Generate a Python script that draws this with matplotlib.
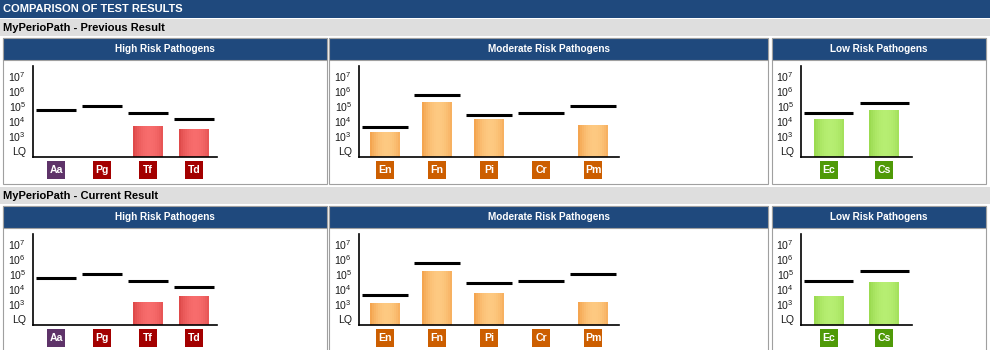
import numpy as np
import matplotlib
matplotlib.use('Agg')
import matplotlib.pyplot as plt
from matplotlib.patches import Rectangle
from matplotlib.colors import to_rgb

plt.rcParams['font.family'] = ['Liberation Sans', 'DejaVu Sans']
plt.rcParams['mathtext.fontset'] = 'custom'
plt.rcParams['mathtext.rm'] = 'Liberation Sans'

# pathogen names per risk group
high_names = ['Aa', 'Pg', 'Tf', 'Td']
mod_names = ['En', 'Fn', 'Pi', 'Cr', 'Pm']
low_names = ['Ec', 'Cs']

# threshold (black line) per pathogen, copies/ml
high_limits = [5.4e4, 1.0e5, 3.2e4, 1.35e4]
mod_limits = [4.0e3, 5.4e5, 2.5e4, 3.4e4, 1.0e5]
low_limits = [3.7e4, 1.7e5]

# previous result (0 = not detected)
prev_high = [0, 0, 4.7e3, 3.0e3]
prev_mod = [1.9e3, 1.9e5, 1.35e4, 0, 5.4e3]
prev_low = [1.35e4, 5.4e4]

# current result
curr_high = [0, 0, 1.35e3, 3.4e3]
curr_mod = [1.2e3, 1.6e5, 5.4e3, 0, 1.35e3]
curr_low = [3.4e3, 3.0e4]

tick_vals = [1e2, 1e3, 1e4, 1e5, 1e6, 1e7]
tick_text = ['LQ', r'$\mathregular{10^{3}}$', r'$\mathregular{10^{4}}$',
             r'$\mathregular{10^{5}}$', r'$\mathregular{10^{6}}$', r'$\mathregular{10^{7}}$']

section_titles = ['MyPerioPath - Previous Result', 'MyPerioPath - Current Result']
panel_titles = ['High Risk Pathogens', 'Moderate Risk Pathogens', 'Low Risk Pathogens']

W, H = 990, 350
BLUE = '#1f497d'
GREY = '#dedede'
BORDER = '#a0a0a0'

fig = plt.figure(figsize=(W / 100, H / 100), dpi=100)


def fig_rect(x0, y0, x1, y1, **kw):
    # pixel coords, origin top-left
    kw.setdefault('zorder', 0)
    fig.patches.append(Rectangle((x0 / W, 1 - y1 / H), (x1 - x0) / W, (y1 - y0) / H,
                                 transform=fig.transFigure, **kw))


def fig_txt(x, y, s, **kw):
    fig.text(x / W, 1 - y / H, s, **kw)


def grad_bar(ax, x, val, width, c_edge, c_mid, bottom):
    if val <= 0:
        return
    n = 15
    dw = width / n
    e = np.array(to_rgb(c_edge))
    m = np.array(to_rgb(c_mid))
    for k in range(n):
        t = (k + 0.5) / n
        f = max(0.0, 1 - ((t - 0.55) / 0.55) ** 2)
        ax.bar(x - width / 2 + k * dw, val - bottom, dw, bottom=bottom, align='edge',
               color=e + (m - e) * f, linewidth=0, antialiased=False, zorder=2)


# group layout: panel x range, axis left, category spacing
groups = [
    (high_names, high_limits, 3, 327, 33, 46,
     ['#5e3369', '#a30000', '#a30000', '#a30000'], ('#dc4646', '#f76c6c')),
    (mod_names, mod_limits, 329, 768, 359, 52,
     ['#cc5e00'] * 5, ('#f3a04a', '#fdc981')),
    (low_names, low_limits, 772, 986, 801, 55.5,
     ['#4f9a08'] * 2, ('#97d84c', '#b6ee72')),
]
results = [[prev_high, prev_mod, prev_low], [curr_high, curr_mod, curr_low]]

# main title
fig_rect(0, 0, W, 18, facecolor=BLUE, edgecolor='none')
fig_txt(3, 9, 'COMPARISON OF TEST RESULTS', color='white', fontsize=8, fontweight='bold',
        ha='left', va='center')

ymin, ymax = 10 ** 1.6, 10 ** 7.67
ax_h = 91

for s, dy in enumerate([0, 168]):
    fig_rect(0, 19 + dy, W, 36 + dy, facecolor=GREY, edgecolor='none')
    fig_txt(3, 28 + dy, section_titles[s], color='black', fontsize=8, fontweight='bold',
            ha='left', va='center')

    for g, (names, limits, px0, px1, ax0, sp, box_cols, (c_edge, c_mid)) in enumerate(groups):
        vals = results[s][g]
        n = len(names)
        fig_rect(px0, 38 + dy, px1, 184 + dy, facecolor='white', edgecolor=BORDER, linewidth=0.8)
        fig_rect(px0, 38 + dy, px1, 60 + dy, facecolor=BLUE, edgecolor=BORDER, linewidth=0.8,
                 zorder=0.5)
        fig_txt((px0 + px1) / 2, 49.5 + dy, panel_titles[g], color='white', fontsize=7.2,
                fontweight='bold', ha='center', va='center')

        ax = fig.add_axes([ax0 / W, 1 - (157 + dy) / H, n * sp / W, ax_h / H])
        ax.set_zorder(2)
        ax.patch.set_visible(False)
        ax.set_yscale('log')
        ax.set_xlim(-0.5, n - 0.5)
        ax.set_ylim(ymin, ymax)
        for side in ['top', 'right']:
            ax.spines[side].set_visible(False)
        for side in ['left', 'bottom']:
            ax.spines[side].set_linewidth(1.2)
            ax.spines[side].set_color('black')
            ax.spines[side].set_zorder(4)
        ax.set_xticks([])
        ax.set_yticks(tick_vals, tick_text)
        ax.minorticks_off()
        ax.tick_params(axis='y', length=0, pad=5, labelsize=7.6, labelcolor='#1a1a1a')

        for i in range(n):
            grad_bar(ax, i, vals[i], 30 / sp, c_edge, c_mid, ymin)
        xs = np.arange(n)
        ax.hlines(limits, xs - 0.885 / 2, xs + 0.885 / 2, colors='black', linewidth=2.2,
                  zorder=3)

        xt = ax.get_xaxis_transform()
        for i, nm in enumerate(names):
            ax.add_patch(Rectangle((i - 9 / sp, -22 / ax_h), 18 / sp, 18 / ax_h, transform=xt,
                                   clip_on=False, facecolor=box_cols[i], edgecolor='none'))
            ax.text(i, -13 / ax_h, nm, transform=xt, ha='center', va='center', color='white',
                    fontsize=7.6, fontweight='bold')

fig.savefig('out.png', dpi=100)
